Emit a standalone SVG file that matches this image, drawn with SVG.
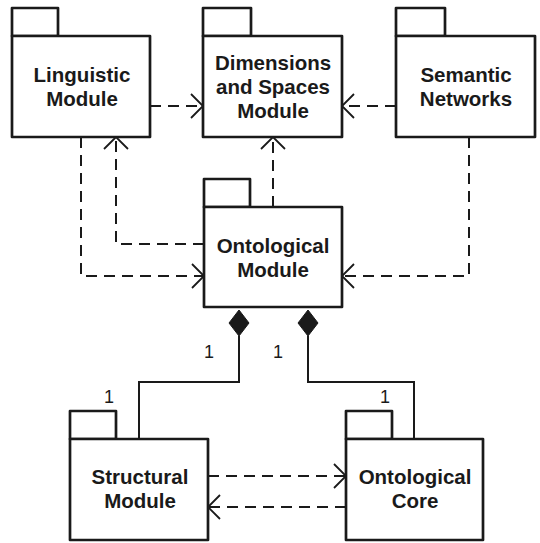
<svg xmlns="http://www.w3.org/2000/svg" width="540" height="543" viewBox="0 0 540 543">
<style>
.box{fill:#fff;stroke:#1a1a1a;stroke-width:2.7;stroke-linejoin:round}
.lbl{font-family:"Liberation Sans",Arial,sans-serif;font-weight:bold;font-size:20.5px;fill:#1a1a1a;text-anchor:middle}
.num{font-family:"Liberation Sans",Arial,sans-serif;font-size:18px;fill:#1a1a1a;text-anchor:middle}
.dash{fill:none;stroke:#1a1a1a;stroke-width:2;stroke-dasharray:11 7}
.head{fill:none;stroke:#1a1a1a;stroke-width:1.8}
.solid{fill:none;stroke:#1a1a1a;stroke-width:2}
.dia{fill:#1a1a1a;stroke:#1a1a1a;stroke-width:1}
</style>
<g id="connectors">
<line class="dash" x1="150" y1="106" x2="202" y2="106"/>
<polyline class="head" points="191,94 203,106 191,118"/>
<line class="dash" x1="396" y1="106" x2="343" y2="106"/>
<polyline class="head" points="354,94 342,106 354,118"/>
<line class="dash" x1="273" y1="207" x2="273" y2="138"/>
<polyline class="head" points="261,149 273,137 285,149"/>
<polyline class="dash" points="204,244 116,244 116,138"/>
<polyline class="head" points="104,149 116,137 128,149"/>
<polyline class="dash" points="81,137 81,276 203,276"/>
<polyline class="head" points="192,264 204,276 192,288"/>
<polyline class="dash" points="469,137 469,276 343,276"/>
<polyline class="head" points="354,264 342,276 354,288"/>
<line class="dash" x1="208" y1="476" x2="345" y2="476"/>
<polyline class="head" points="334,464 346,476 334,488"/>
<line class="dash" x1="346" y1="507" x2="209" y2="507"/>
<polyline class="head" points="220,495 208,507 220,519"/>
<polyline class="solid" points="139,439 139,382 239,382 239,336"/>
<polygon class="dia" points="239,310 249,323 239,336 229,323"/>
<polyline class="solid" points="414,439 414,382 308,382 308,336"/>
<polygon class="dia" points="308,310 318,323 308,336 298,323"/>
<text class="num" x="209" y="358">1</text>
<text class="num" x="278" y="358">1</text>
<text class="num" x="109" y="403">1</text>
<text class="num" x="385" y="403">1</text>
</g>
<g id="linguistic">
<rect class="box" x="12" y="8" width="46" height="28"/>
<rect class="box" x="12" y="36" width="138" height="101"/>
<text class="lbl" x="82" y="82">Linguistic</text>
<text class="lbl" x="82" y="106">Module</text>
</g>
<g id="dimensions">
<rect class="box" x="203" y="8" width="48" height="28"/>
<rect class="box" x="203" y="36" width="139" height="101"/>
<text class="lbl" x="273" y="70">Dimensions</text>
<text class="lbl" x="273" y="94">and Spaces</text>
<text class="lbl" x="273" y="118">Module</text>
</g>
<g id="semantic">
<rect class="box" x="396" y="8" width="49" height="28"/>
<rect class="box" x="396" y="36" width="139" height="101"/>
<text class="lbl" x="466" y="82">Semantic</text>
<text class="lbl" x="466" y="106">Networks</text>
</g>
<g id="ontological-module">
<rect class="box" x="204" y="179" width="46" height="28"/>
<rect class="box" x="204" y="207" width="138" height="100"/>
<text class="lbl" x="273" y="253">Ontological</text>
<text class="lbl" x="273" y="277">Module</text>
</g>
<g id="structural">
<rect class="box" x="70" y="411" width="46" height="28"/>
<rect class="box" x="70" y="439" width="138" height="101"/>
<text class="lbl" x="140" y="484">Structural</text>
<text class="lbl" x="140" y="508">Module</text>
</g>
<g id="ontological-core">
<rect class="box" x="346" y="411" width="46" height="28"/>
<rect class="box" x="346" y="439" width="137" height="101"/>
<text class="lbl" x="415" y="484">Ontological</text>
<text class="lbl" x="415" y="508">Core</text>
</g>
</svg>
